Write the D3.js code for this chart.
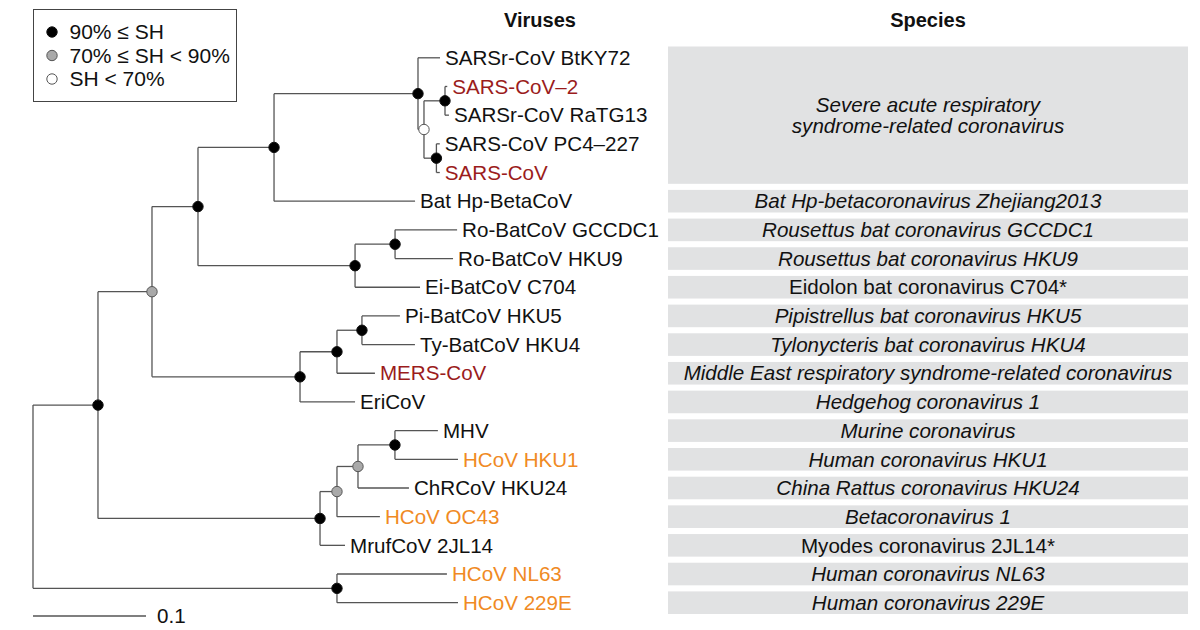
<!DOCTYPE html>
<html>
<head>
<meta charset="utf-8">
<script src="https://cdn.jsdelivr.net/npm/d3@7"></script>
<style>
  html, body { margin: 0; padding: 0; background: #fff; }
  svg { display: block; font-family: "Liberation Sans", Arial, Helvetica, sans-serif; }
</style>
</head>
<body>
<svg id="chart" width="1200" height="630"></svg>
<script>
// ---- DATA ----
// Tree: node ids, parents, branch lengths (substitutions/site), support class
const nodeIds = ["root","M","I","F","E","A","SARSr-CoV BtKY72","B","C","SARS-CoV–2","SARSr-CoV RaTG13","D","SARS-CoV PC4–227","SARS-CoV","Bat Hp-BetaCoV","G","H","Ro-BatCoV GCCDC1","Ro-BatCoV HKU9","Ei-BatCoV C704","J","K","L","Pi-BatCoV HKU5","Ty-BatCoV HKU4","MERS-CoV","EriCoV","N","P","R","S","MHV","HCoV HKU1","ChRCoV HKU24","HCoV OC43","MrufCoV 2JL14","Q","HCoV NL63","HCoV 229E"];
const parentIds = [null,"root","M","I","F","E","A","A","B","C","C","B","D","D","E","F","G","H","H","G","I","J","K","L","L","K","J","M","N","P","R","S","S","R","P","N","root","Q","Q"];
const branchLengths = [0,0.0575,0.0478,0.0407,0.0673,0.1274,0.0195,0.0053,0.0186,0.002,0.0035,0.011,0.003,0.003,0.1248,0.139,0.0354,0.0549,0.0513,0.0575,0.131,0.0327,0.0221,0.0336,0.0469,0.0336,0.0487,0.1965,0.015,0.0186,0.0327,0.038,0.0558,0.0451,0.038,0.0221,0.269,0.0973,0.1071];
const supports = ["","high","mid","high","high","high","","low","high","","","high","","","","high","high","","","","high","high","high","","","","","high","mid","mid","high","","","","","","high","",""];

const redViruses = ["SARS-CoV–2","SARS-CoV","MERS-CoV"];
const orangeViruses = ["HCoV HKU1","HCoV OC43","HCoV NL63","HCoV 229E"];

const speciesNames = [
  ["Severe acute respiratory","syndrome-related coronavirus"],
  ["Bat Hp-betacoronavirus Zhejiang2013"],
  ["Rousettus bat coronavirus GCCDC1"],
  ["Rousettus bat coronavirus HKU9"],
  ["Eidolon bat coronavirus C704*"],
  ["Pipistrellus bat coronavirus HKU5"],
  ["Tylonycteris bat coronavirus HKU4"],
  ["Middle East respiratory syndrome-related coronavirus"],
  ["Hedgehog coronavirus 1"],
  ["Murine coronavirus"],
  ["Human coronavirus HKU1"],
  ["China Rattus coronavirus HKU24"],
  ["Betacoronavirus 1"],
  ["Myodes coronavirus 2JL14*"],
  ["Human coronavirus NL63"],
  ["Human coronavirus 229E"]
];
const speciesFirstLeaf = [0,5,6,7,8,9,10,11,12,13,14,15,16,17,18,19];
const speciesLastLeaf  = [4,5,6,7,8,9,10,11,12,13,14,15,16,17,18,19];
const speciesItalic = [true,true,true,true,false,true,true,true,true,true,true,true,true,false,true,true];

const legendLabels = ["90% ≤ SH","70% ≤ SH < 90%","SH < 70%"];
const legendClasses = ["high","mid","low"];
const scaleBarValue = 0.1;

// ---- STYLE ----
const lineColor = "#555";
const fillFor = {high:"#000", mid:"#a9a9a9", low:"#fff"};
const strokeFor = {high:"#111", mid:"#555", low:"#555"};
const fontSize = 20.6;

// ---- BUILD ----
const svg = d3.select("#chart");
const rows = nodeIds.map((id,i)=>({id, parent: parentIds[i], length: branchLengths[i], support: supports[i]}));
const root = d3.stratify().id(d=>d.id).parentId(d=>d.parent)(rows);
root.eachBefore(n => { n.dist = n.parent ? n.parent.dist + n.data.length : 0; });
const leaves = root.leaves();

const x = d3.scaleLinear().domain([0, 0.1]).range([33, 146]);
const y = d3.scaleLinear().domain([0, leaves.length-1]).range([57.8, 602.7]);

leaves.forEach((l,i)=>{ l.yv = y(i); });
root.eachAfter(n => { if (n.children) n.yv = (n.children[0].yv + n.children[n.children.length-1].yv)/2; });

const g = svg.append("g");

// species boxes
const boxHalf = 11.3;
const boxX0 = 668, boxX1 = 1188;
speciesNames.forEach((lines,i)=>{
  const y0 = y(speciesFirstLeaf[i]) - boxHalf;
  const y1 = y(speciesLastLeaf[i]) + boxHalf;
  g.append("rect").attr("x", boxX0).attr("y", y0).attr("width", boxX1-boxX0).attr("height", y1-y0)
    .attr("fill", "#e1e2e3");
  const cy = (y0+y1)/2;
  const lh = 21;
  lines.forEach((t,j)=>{
    g.append("text").attr("x", (boxX0+boxX1)/2)
      .attr("y", cy + (j - (lines.length-1)/2)*lh)
      .attr("dy", "0.35em")
      .attr("text-anchor","middle")
      .attr("font-size", fontSize)
      .attr("font-style", speciesItalic[i] ? "italic" : "normal")
      .attr("fill", "#111")
      .text(t);
  });
});

// headers
svg.append("text").attr("x", 540).attr("y", 26.5).attr("text-anchor","middle")
  .attr("font-size", 20).attr("font-weight","bold").attr("fill","#111").text("Viruses");
svg.append("text").attr("x", (boxX0+boxX1)/2).attr("y", 26.5).attr("text-anchor","middle")
  .attr("font-size", 20).attr("font-weight","bold").attr("fill","#111").text("Species");

// branches
const branches = g.append("g").attr("stroke", lineColor).attr("stroke-width", 1.3).attr("fill","none");
root.descendants().forEach(n=>{
  if (n.parent) {
    branches.append("line").attr("x1", x(n.parent.dist)).attr("x2", x(n.dist))
      .attr("y1", n.yv).attr("y2", n.yv);
  }
  if (n.children) {
    branches.append("line").attr("x1", x(n.dist)).attr("x2", x(n.dist))
      .attr("y1", n.children[0].yv).attr("y2", n.children[n.children.length-1].yv);
  }
});

// support circles
root.descendants().filter(n=>n.children && n.data.support).forEach(n=>{
  g.append("circle").attr("cx", x(n.dist)).attr("cy", n.yv).attr("r", 5.2)
    .attr("fill", fillFor[n.data.support]).attr("stroke", strokeFor[n.data.support]).attr("stroke-width", 1);
});

// leaf labels
leaves.forEach(l=>{
  const name = l.data.id;
  const col = redViruses.includes(name) ? "#9b1c1c" : orangeViruses.includes(name) ? "#f08a24" : "#111";
  g.append("text").attr("x", x(l.dist) + 5).attr("y", l.yv).attr("dy","0.35em")
    .attr("font-size", fontSize).attr("fill", col).text(name);
});

// scale bar
svg.append("line").attr("x1", x(0)).attr("x2", x(scaleBarValue)).attr("y1", 616).attr("y2", 616)
  .attr("stroke", lineColor).attr("stroke-width", 1.3);
svg.append("text").attr("x", x(scaleBarValue) + 11).attr("y", 616).attr("dy","0.35em")
  .attr("font-size", fontSize).attr("fill","#111").text(String(scaleBarValue));

// legend
const lg = svg.append("g");
lg.append("rect").attr("x", 33.5).attr("y", 9.5).attr("width", 203).attr("height", 92)
  .attr("fill","#fff").attr("stroke","#444").attr("stroke-width",1);
legendLabels.forEach((t,i)=>{
  const cy = 32 + i*23.5;
  lg.append("circle").attr("cx", 52).attr("cy", cy).attr("r", 5.2)
    .attr("fill", fillFor[legendClasses[i]]).attr("stroke", strokeFor[legendClasses[i]]).attr("stroke-width",1);
  lg.append("text").attr("x", 69.5).attr("y", cy).attr("dy","0.35em").attr("font-size", 21)
    .attr("fill","#111").text(t);
});
</script>
</body>
</html>
